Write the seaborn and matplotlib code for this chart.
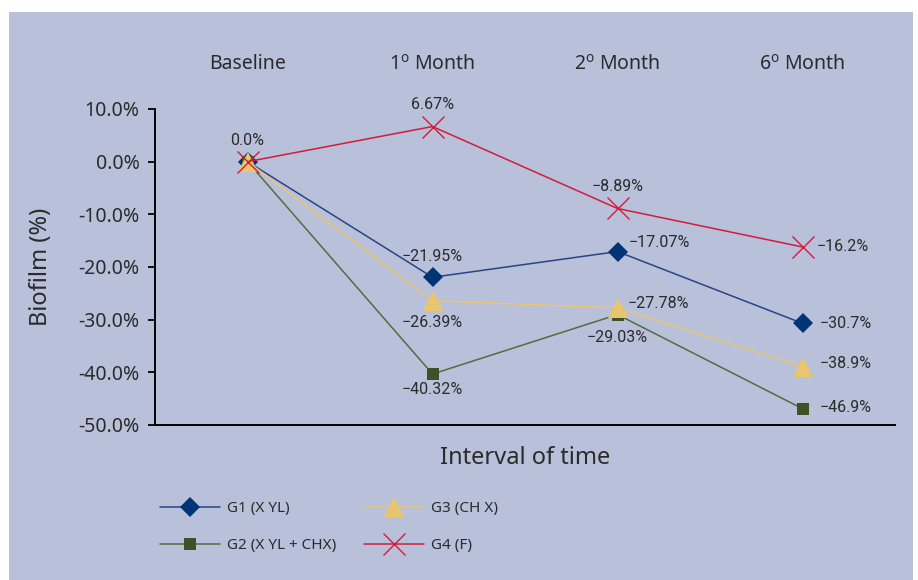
import matplotlib
matplotlib.use("Agg")
import matplotlib.pyplot as plt
from matplotlib.patches import Rectangle
import pandas as pd
import seaborn as sns

# ---- data -------------------------------------------------------------
periods = ["Baseline", "1$^{\\mathrm{o}}$ Month", "2$^{\\mathrm{o}}$ Month", "6$^{\\mathrm{o}}$ Month"]
groups = ["G1 (X YL)", "G2 (X YL + CHX)", "G3 (CH X)", "G4 (F)"]
g1_values = [0.0, -21.95, -17.07, -30.7]
g2_values = [0.0, -40.32, -29.03, -46.9]
g3_values = [0.0, -26.39, -27.78, -38.9]
g4_values = [0.0, 6.67, -8.89, -16.2]
y_ticks = [10, 0, -10, -20, -30, -40, -50]
y_tick_labels = ["10.0%", "0.0%", "-10.0%", "-20.0%", "-30.0%", "-40.0%", "-50.0%"]

series = [g1_values, g2_values, g3_values, g4_values]
df = pd.DataFrame({
    "pos": [i for _ in groups for i in range(len(periods))],
    "value": [v for vals in series for v in vals],
    "group": [g for g in groups for _ in periods],
})

# ---- styling ----------------------------------------------------------
sns.set_style("ticks")
plt.rcParams["font.family"] = ["Noto Sans", "DejaVu Sans"]
plt.rcParams["mathtext.fontset"] = "custom"
plt.rcParams["mathtext.rm"] = "Noto Sans"
plt.rcParams["mathtext.it"] = "Noto Sans:italic"
text_color = "#2b2b2b"
bg_color = "#b8c0da"

styles = {
    "G1 (X YL)": dict(color="#2a4488", marker="D", markersize=10, mfc="#003474", mec="#003474"),
    "G2 (X YL + CHX)": dict(color="#556b40", marker="s", markersize=8, mfc="#3e5228", mec="#3e5228"),
    "G3 (CH X)": dict(color="#e9c66d", marker="^", markersize=15, mfc="#e9c66d", mec="#e9c66d"),
    "G4 (F)": dict(color="#d21c3e", marker="x", markersize=16, mfc="#d21c3e", mec="#d21c3e",
                   markeredgewidth=1.0),
}

# value-label placement per group and period: (dx px, dy px, ha) or None
label_offsets = {
    "G1 (X YL)": [None, (0, 21, "center"), (11, 9, "left"), (17, 0, "left")],
    "G2 (X YL + CHX)": [None, (0, -15, "center"), (0, -23, "center"), (17, 1, "left")],
    "G3 (CH X)": [None, (0, -22, "center"), (10, 4, "left"), (17, 3, "left")],
    "G4 (F)": [(0, 21, "center"), (0, 22, "center"), (0, 22, "center"), (14, 0, "left")],
}

fig = plt.figure(figsize=(9.18, 5.8), dpi=100)
fig.patch.set_facecolor("white")
fig.patches.append(Rectangle((9 / 918, 0), (913 - 9) / 918, 568 / 580,
                             transform=fig.transFigure, facecolor=bg_color,
                             edgecolor="none", zorder=-10))

ax = fig.add_axes([155 / 918, 1 - 425 / 580, 740 / 918, 316 / 580])
ax.set_facecolor("none")

for z, g in enumerate(groups):
    sub = df[df["group"] == g]
    st = styles[g]
    sns.lineplot(data=sub, x="pos", y="value", ax=ax, color=st["color"],
                 marker=st["marker"], markersize=st["markersize"],
                 markerfacecolor=st["mfc"], markeredgecolor=st["mec"],
                 markeredgewidth=st.get("markeredgewidth", 0),
                 linewidth=1.1, label=g, zorder=3 + z, estimator=None)

for g, vals in zip(groups, series):
    for i, (v, off) in enumerate(zip(vals, label_offsets[g])):
        if off is None:
            continue
        dx, dy, ha = off
        txt = f"{v}%".replace("-", "\u2212")
        ax.annotate(txt, xy=(i, v), xytext=(dx * 0.72, dy * 0.72),
                    textcoords="offset points", ha=ha, va="center",
                    fontsize=11.5, family=["Roboto", "DejaVu Sans"],
                    color=text_color, zorder=10)

ax.set_xlim(-0.5, len(periods) - 0.5)
ax.set_ylim(-50, 10)
ax.set_yticks(y_ticks)
ax.set_yticklabels(y_tick_labels, fontsize=14, color=text_color)
ax.tick_params(axis="y", length=5, width=1.3, pad=6, color="black")

ax.xaxis.tick_top()
ax.set_xticks(range(len(periods)))
ax.set_xticklabels(periods, fontsize=14, color=text_color)
ax.tick_params(axis="x", length=0, pad=25)

for side in ("top", "right"):
    ax.spines[side].set_visible(False)
for side in ("left", "bottom"):
    ax.spines[side].set_color("black")
    ax.spines[side].set_linewidth(1.4)

ax.set_ylabel("Biofilm (%)", fontsize=17, color=text_color)
ax.yaxis.set_label_coords(-0.138, 0.5)
ax.set_xlabel("Interval of time", fontsize=17, color=text_color)
ax.xaxis.set_label_position("bottom")
ax.xaxis.set_label_coords(0.5, -0.105)
ax.xaxis.label.set_va("center")

ax.legend(loc="upper left", bbox_to_anchor=(160 / 918, 1 - 501 / 580),
          bbox_transform=fig.transFigure, ncol=2, frameon=False,
          fontsize=11, handlelength=3.9, handletextpad=0.5,
          columnspacing=1.8, labelspacing=1.45, borderpad=0, borderaxespad=0,
          labelcolor=text_color)

fig.savefig("out.png", dpi=100)
